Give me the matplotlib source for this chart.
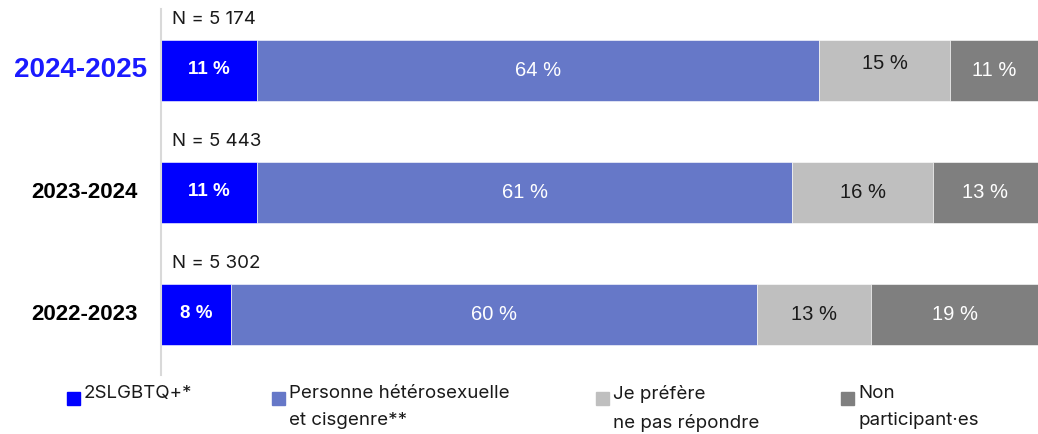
import matplotlib
matplotlib.use("Agg")
import matplotlib.pyplot as plt
from matplotlib.patches import Rectangle

years = ["2024-2025", "2023-2024", "2022-2023"]
n_labels = ["N = 5 174", "N = 5 443", "N = 5 302"]
series_names = ["2SLGBTQ+*", "Personne hétérosexuelle\net cisgenre**",
                "Je préfère\nne pas répondre", "Non\nparticipant·es"]
lgbtq = [11, 11, 8]
hetero = [64, 61, 60]
no_answer = [15, 16, 13]
non_part = [11, 13, 19]

colors = ["#0000FF", "#6678C8", "#BFBFBF", "#7F7F7F"]
label_colors = ["white", "white", "#1a1a1a", "white"]
label_weights = ["bold", "normal", "normal", "normal"]
label_sizes = [13.5, 14.5, 14.5, 14.5]

W, H = 1038, 434
fig = plt.figure(figsize=(W / 100, H / 100), dpi=100)
ax = fig.add_axes([161 / W, (H - 375) / H, (W - 161) / W, 366 / H])

series = [lgbtq, hetero, no_answer, non_part]
ypos = list(range(len(years)))
left = [0] * len(years)
for s, vals in enumerate(series):
    ax.barh(ypos, vals, left=left, height=0.5, color=colors[s],
            edgecolor="white", linewidth=0.4, zorder=2)
    for i, v in enumerate(vals):
        cx = left[i] + v / 2
        cx = min(cx, (left[i] + 100) / 2)
        dy = -0.05 if (s == 2 and i == 0) else 0.0
        ax.text(cx, ypos[i] + dy, f"{v} %", ha="center", va="center",
                color=label_colors[s], fontsize=label_sizes[s],
                fontweight=label_weights[s], family="Liberation Sans", zorder=3)
    left = [l + v for l, v in zip(left, vals)]

ax.set_xlim(0, 100)
ax.set_ylim(2.5, -0.5)
for sp in ["top", "right", "bottom"]:
    ax.spines[sp].set_visible(False)
ax.spines["left"].set_color("#D9D9D9")
ax.spines["left"].set_linewidth(1.5)
ax.set_xticks([])
ax.set_yticks([])

# N labels
for i, t in enumerate(n_labels):
    ax.text(1.3, ypos[i] - 0.41, t, ha="left", va="center", fontsize=13.5,
            family="Inter", color="#1a1a1a")

# Year labels
for i, y in enumerate(years):
    if i == 0:
        fig.text(147 / W, 1 - 70 / H, y, ha="right", va="center", fontsize=20,
                 fontweight="bold", family="Liberation Sans", color="#1a1aff")
    else:
        fig.text(138 / W, 1 - (70 + 122 * i) / H, y, ha="right", va="center",
                 fontsize=16, fontweight="bold", family="Liberation Sans",
                 color="black")

# Legend (manual)
sq_x = [67, 272, 596, 841]
for x, c, name in zip(sq_x, colors, series_names):
    fig.patches.append(Rectangle((x / W, 1 - 405 / H), 13 / W, 13 / H,
                                 transform=fig.transFigure, color=c))
    fig.text((x + 17) / W, 1 - 385 / H, name, ha="left", va="top",
             fontsize=13.5, family="Inter", color="#1a1a1a", linespacing=1.8)

fig.savefig("out.png", dpi=100)
